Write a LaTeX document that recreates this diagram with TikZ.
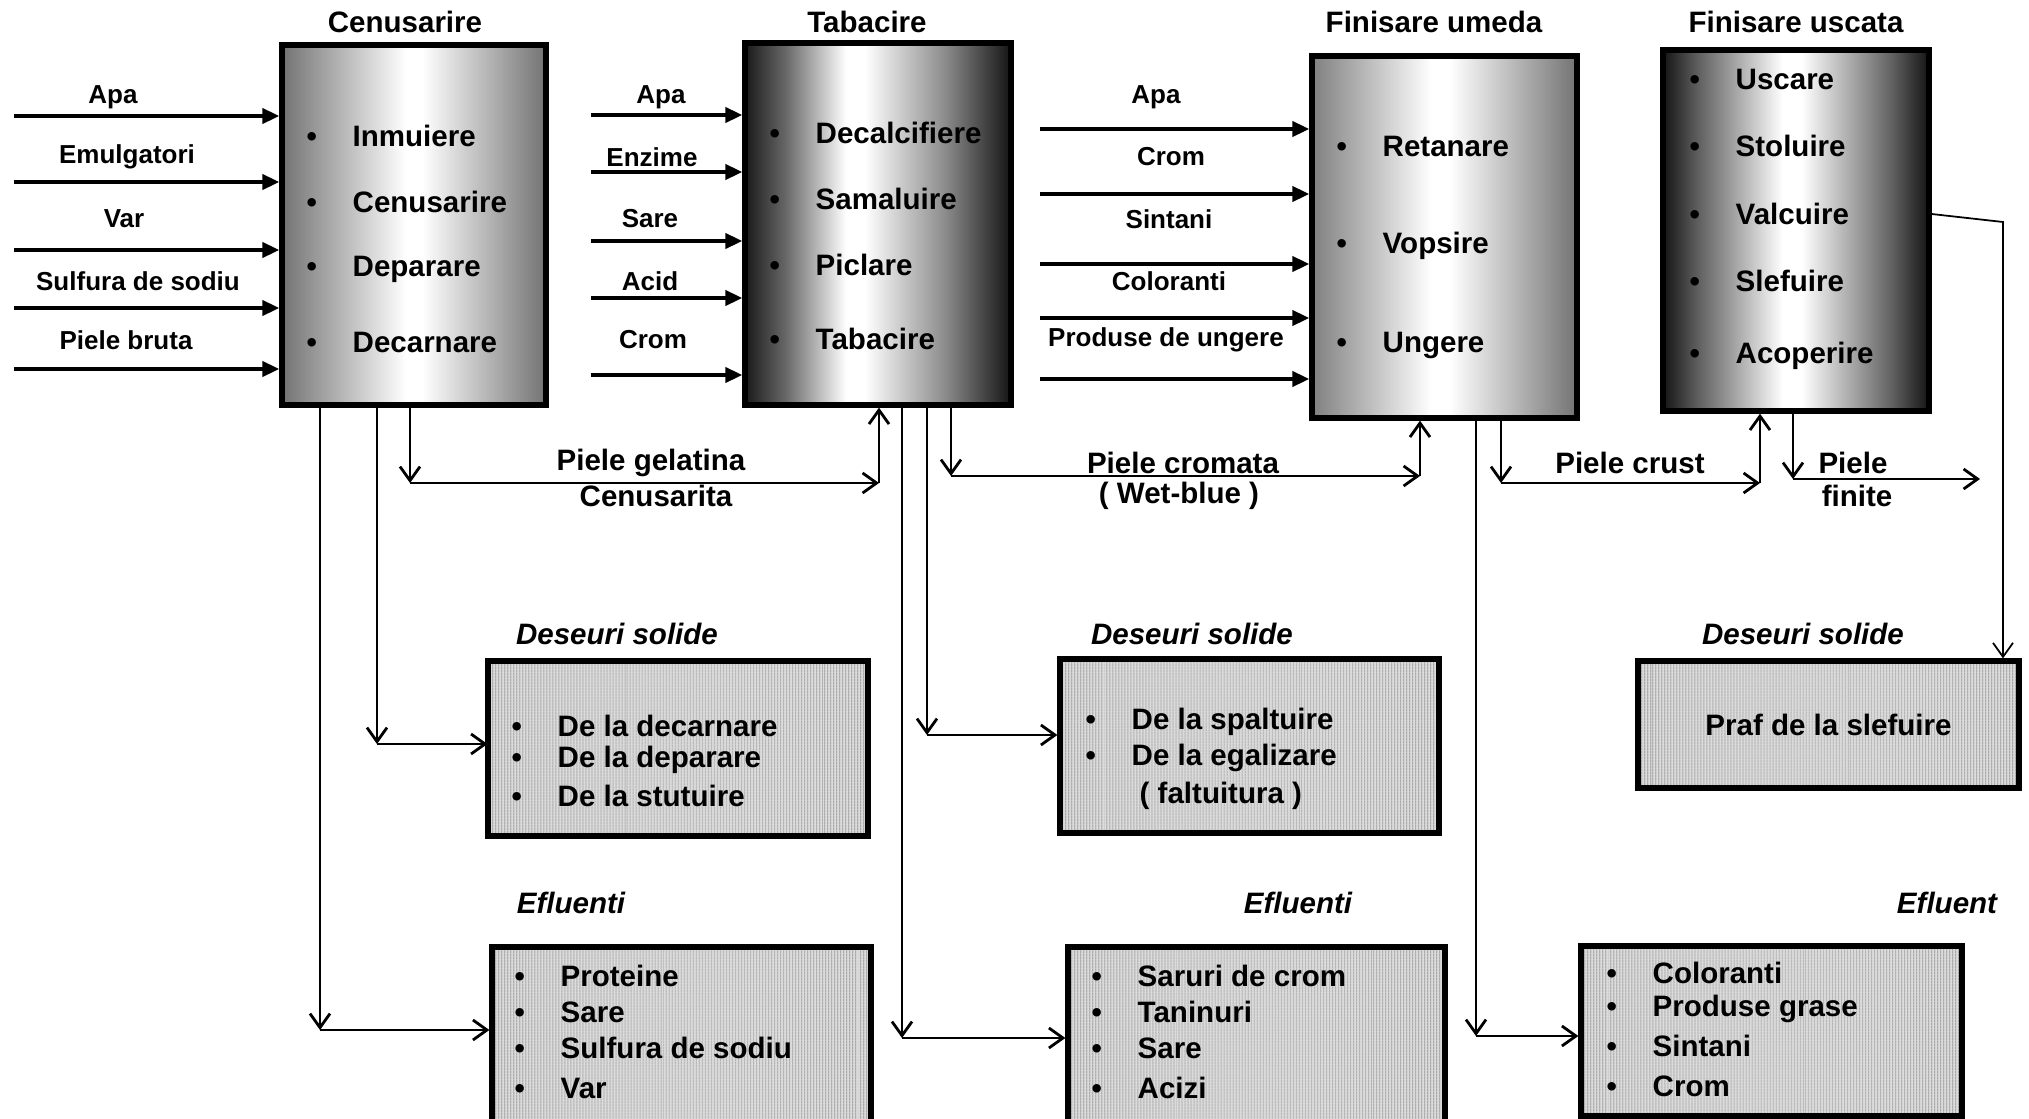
\documentclass[tikz,border=0pt]{standalone}
\usepackage{fontspec}
\setmainfont{Liberation Sans}
\usepackage{tikz}
\usetikzlibrary{arrows.meta,fit,positioning,patterns.meta}

\pgfdeclarehorizontalshading{censhade}{100bp}{color(0bp)=(black!55); color(25bp)=(black!55); color(48.5bp)=(white); color(51.5bp)=(white); color(75bp)=(black!55); color(100bp)=(black!55)}
\pgfdeclarehorizontalshading{tabshade}{100bp}{color(0bp)=(black!90); color(25bp)=(black!90); color(32.5bp)=(black!60); color(44bp)=(white); color(47.5bp)=(white); color(62.5bp)=(black!45); color(75bp)=(black!92); color(100bp)=(black!92)}
\pgfdeclarehorizontalshading{fumshade}{100bp}{color(0bp)=(black!50); color(25bp)=(black!50); color(47.5bp)=(white); color(51bp)=(white); color(75bp)=(black!55); color(100bp)=(black!55)}
\pgfdeclarehorizontalshading{fusshade}{100bp}{color(0bp)=(black!92); color(25bp)=(black!92); color(31bp)=(black!65); color(47.5bp)=(white); color(51bp)=(white); color(67.5bp)=(black!60); color(75bp)=(black!92); color(100bp)=(black!92)}

\newcommand{\itembul}{\makebox[4.6mm][l]{\textbullet}}

\tikzset{
	procbox/.style={draw=black, line width=1.5pt, inner sep=0pt},
	wastebox/.style={draw=black, line width=1.5pt, inner sep=0pt, preaction={fill=black!14}, pattern={Lines[angle=90,distance=0.9pt,line width=0.3pt]}, pattern color=black!45},
	boxtitle/.style={inner sep=0pt, font=\fontsize{8.4}{10}\selectfont\bfseries},
	wastetitle/.style={inner sep=0pt, font=\fontsize{8.4}{10}\selectfont\bfseries\itshape},
	item/.style={anchor=west, inner sep=0pt, font=\fontsize{8.4}{10}\selectfont\bfseries},
	inlabel/.style={inner sep=0pt, font=\fontsize{7.4}{9}\selectfont\bfseries},
	inarrow/.style={line width=1.1pt, -{Triangle[length=1.7mm,width=1.5mm]}},
	flow/.style={line width=0.8pt, -{Straight Barb[length=1.4mm,width=2mm]}},
	thinflow/.style={line width=0.5pt, -{Straight Barb[length=1.4mm,width=2mm]}},
}

\begin{document}
\begin{tikzpicture}[x=0.1mm, y=-0.1mm]
	\useasboundingbox (0,0) rectangle (2029,1119);
	\clip (0,0) rectangle (2029,1119);

	\node[procbox, shading=censhade, fit={(282,45) (546,405)}] (cen) {};
	\node[procbox, shading=tabshade, fit={(745,43) (1011,405)}] (tab) {};
	\node[procbox, shading=fumshade, fit={(1312,56) (1577,418)}] (fum) {};
	\node[procbox, shading=fusshade, fit={(1663,50) (1929,411)}] (fus) {};

	\node[boxtitle] (cent) at (405,22) {Cenusarire};
	\node[boxtitle] (tabt) at (867,22) {Tabacire};
	\node[boxtitle] (fumt) at (1434,22) {Finisare umeda};
	\node[boxtitle] (fust) at (1796,22) {Finisare uscata};

	\foreach \y/\t [count=\i] in {136/Inmuiere, 202/Cenusarire, 269/Deparare, 342/Decarnare}
		\node[item] (cen\i) at (306,\y) {\itembul\t};
	\foreach \y/\t [count=\i] in {133/Decalcifiere, 199/Samaluire, 265/Piclare, 339/Tabacire}
		\node[item] (tab\i) at (769,\y) {\itembul\t};
	\foreach \y/\t [count=\i] in {146/Retanare, 246/Vopsire, 345/Ungere}
		\node[item] (fum\i) at (1336,\y) {\itembul\t};
	\foreach \y/\t [count=\i] in {79/Uscare, 146/Stoluire, 214/Valcuire, 281/Slefuire, 356/Acoperire}
		\node[item] (fus\i) at (1689,\y) {\itembul\t};

	\foreach \lx/\ly/\y/\t [count=\i] in {113/97/116/Apa, 127/157/182/Emulgatori, 124/219/250/Var, 138/281/308/Sulfura de sodiu, 126/340/369/Piele bruta}{
		\node[inlabel] (cenin\i) at (\lx,\ly) {\t};
		\coordinate (cens\i) at (14,\y);
		\draw[inarrow] (cens\i) -- (cens\i -| cen.west);
	}
	\foreach \lx/\ly/\y/\t [count=\i] in {661/97/115/Apa, 652/157/172/Enzime, 650/219/241/Sare, 650/281/298/Acid, 653/340/375/Crom}{
		\node[inlabel] (tabin\i) at (\lx,\ly) {\t};
		\coordinate (tabs\i) at (591,\y);
		\draw[inarrow] (tabs\i) -- (tabs\i -| tab.west);
	}
	\foreach \lx/\ly/\y/\t [count=\i] in {1156/97/129/Apa, 1171/157/194/Crom, 1169/219/264/Sintani, 1169/281/318/Coloranti, 1166/340/379/Produse de ungere}{
		\node[inlabel] (fumin\i) at (\lx,\ly) {\t};
		\coordinate (fums\i) at (1040,\y);
		\draw[inarrow] (fums\i) -- (fums\i -| fum.west);
	}

	\node[wastebox, fit={(488,661) (868,836)}] (des1) {};
	\node[wastebox, fit={(492,947) (871,1140)}] (efl1) {};
	\node[wastebox, fit={(1060,659) (1439,833)}] (des2) {};
	\node[wastebox, fit={(1068,947) (1445,1140)}] (efl2) {};
	\node[wastebox, fit={(1638,661) (2019,788)}] (des3) {};
	\node[wastebox, fit={(1581,946) (1962,1116)}] (efl3) {};

	\node[wastetitle] (des1t) at (617,634) {Deseuri solide};
	\node[wastetitle] (des2t) at (1192,634) {Deseuri solide};
	\node[wastetitle] (des3t) at (1803,634) {Deseuri solide};
	\node[wastetitle] (efl1t) at (571,903) {Efluenti};
	\node[wastetitle] (efl2t) at (1298,903) {Efluenti};
	\node[wastetitle] (efl3t) at (1947,903) {Efluent};

	\foreach \y/\t [count=\i] in {726/De la decarnare, 760/De la deparare, 796/De la stutuire}
		\node[item] (des1\i) at (511,\y) {\itembul\t};
	\foreach \y/\t [count=\i] in {976/Proteine, 1012/Sare, 1048/Sulfura de sodiu, 1088/Var}
		\node[item] (efl1\i) at (514,\y) {\itembul\t};
	\foreach \y/\t [count=\i] in {722/De la spaltuire, 758/De la egalizare}
		\node[item] (des2\i) at (1085,\y) {\itembul\t};
	\node[item] (des23) at (1139,796) {( faltuitura )};
	\foreach \y/\t [count=\i] in {976/Saruri de crom, 1012/Taninuri, 1048/Sare, 1088/Acizi}
		\node[item] (efl2\i) at (1091,\y) {\itembul\t};
	\node[boxtitle] (des31) at (des3.center) {Praf de la slefuire};
	\foreach \y/\t [count=\i] in {973/Coloranti, 1009/Produse grase, 1046/Sintani, 1086/Crom}
		\node[item] (efl3\i) at (1606,\y) {\itembul\t};

	\coordinate (k1) at (320,1030);
	\coordinate (k2) at (377,744);
	\coordinate (k3) at (410,483);
	\coordinate (k4) at (879,483);
	\draw[flow] (cen.south -| k1) -- (k1);
	\draw[flow] (k1) -- (k1 -| efl1.west);
	\draw[flow] (cen.south -| k2) -- (k2);
	\draw[flow] (k2) -- (k2 -| des1.west);
	\draw[flow] (cen.south -| k3) -- (k3);
	\draw[flow] (k3) -- (k4);
	\draw[flow] (k4) -- (k4 |- tab.south);
	\node[boxtitle] (gel1) at (651,463) {Piele gelatina};
	\node[boxtitle] (gel2) at (656,496) {Cenusarita};

	\coordinate (t1) at (902,1038);
	\coordinate (t2) at (927,735);
	\coordinate (t3) at (951,476);
	\coordinate (t4) at (1420,476);
	\draw[flow] (tab.south -| t1) -- (t1);
	\draw[flow] (t1) -- (t1 -| efl2.west);
	\draw[flow] (tab.south -| t2) -- (t2);
	\draw[flow] (t2) -- (t2 -| des2.west);
	\draw[flow] (tab.south -| t3) -- (t3);
	\draw[flow] (t3) -- (t4);
	\draw[flow] (t4) -- (t4 |- fum.south);
	\node[boxtitle] (crom1) at (1183,463) {Piele cromata};
	\node[boxtitle] (crom2) at (1179,496) {( Wet-blue )};

	\coordinate (u1) at (1476,1036);
	\coordinate (u2) at (1501,483);
	\coordinate (u3) at (1760,483);
	\draw[flow] (fum.south -| u1) -- (u1);
	\draw[flow] (u1) -- (u1 -| efl3.west);
	\draw[flow] (fum.south -| u2) -- (u2);
	\draw[flow] (u2) -- (u3);
	\draw[flow] (u3) -- (u3 |- fus.south);
	\node[boxtitle] (crust) at (1630,463) {Piele crust};

	\coordinate (f1) at (1793,479);
	\coordinate (f2) at (1980,479);
	\coordinate (f3) at (2003,222);
	\draw[flow] (fus.south -| f1) -- (f1);
	\draw[flow] (f1) -- (f2);
	\node[boxtitle] (fin1) at (1853,463) {Piele};
	\node[boxtitle] (fin2) at (1857,496) {finite};
	\draw[thinflow] (fus3 -| fus.east) -- (f3) -- (f3 |- des3.north);
\end{tikzpicture}
\end{document}
